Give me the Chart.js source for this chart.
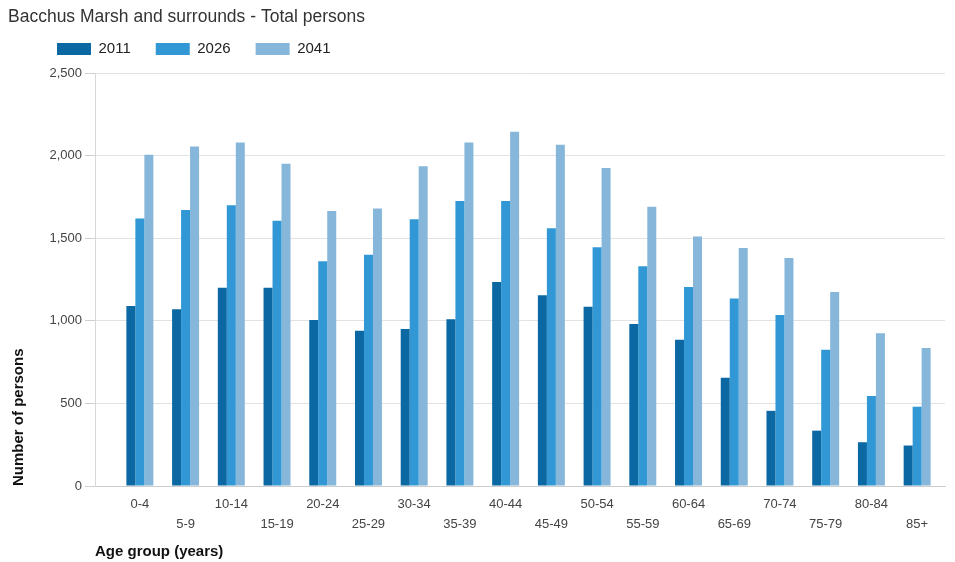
<!DOCTYPE html>
<html>
<head>
<meta charset="utf-8">
<script src="https://cdn.jsdelivr.net/npm/chart.js@4.4.1/dist/chart.umd.min.js"></script>
<style>
  html, body { margin: 0; padding: 0; background: #ffffff; }
  #wrap { width: 955px; height: 562px; }
</style>
</head>
<body>
<div id="wrap"><canvas id="chart" width="955" height="562"></canvas></div>
<script>
// Age groups shown along the x axis
const AGE_GROUPS = ['0-4', '5-9', '10-14', '15-19', '20-24', '25-29', '30-34', '35-39', '40-44',
                    '45-49', '50-54', '55-59', '60-64', '65-69', '70-74', '75-79', '80-84', '85+'];

// Series names (years)
const SERIES_NAMES = ['2011', '2026', '2041'];

// Number of persons per age group
const PERSONS_2011 = [1090, 1070, 1200, 1200, 1005, 940, 950, 1010, 1235, 1155, 1085, 980, 885, 655, 455, 335, 265, 245];
const PERSONS_2026 = [1620, 1670, 1700, 1605, 1360, 1400, 1615, 1725, 1725, 1560, 1445, 1330, 1205, 1135, 1035, 825, 545, 480];
const PERSONS_2041 = [2005, 2055, 2080, 1950, 1665, 1680, 1935, 2080, 2145, 2065, 1925, 1690, 1510, 1440, 1380, 1175, 925, 835];

// Value axis ticks
const Y_TICKS = [0, 500, 1000, 1500, 2000, 2500];

const COLORS = ['#0b68a3', '#3198d5', '#86b6d9'];
const FONT = 'Liberation Sans, Arial, sans-serif';

// Small layout adjustments: the category band sits a little inside the
// plot frame, the title is indented, and the legend row sits just under it.
const layoutTweaks = {
  id: 'layoutTweaks',
  afterLayout(chart) {
    const x = chart.scales.x;
    const area = chart.chartArea;
    x._startPixel = area.left + 22;
    x._endPixel = area.right - 5;
    x._length = x._endPixel - x._startPixel;

    const tb = chart.titleBlock;
    if (tb) { tb.left += 8; tb.right += 8; }

    const lg = chart.legend;
    const dx = 32, dy = 16.5 - lg.top;
    lg.left += dx; lg.right += dx;
    lg.top += dy; lg.bottom += dy;
  }
};

const seriesValues = [PERSONS_2011, PERSONS_2026, PERSONS_2041];

new Chart(document.getElementById('chart'), {
  type: 'bar',
  data: {
    labels: AGE_GROUPS,
    datasets: SERIES_NAMES.map((name, i) => ({
      label: name,
      data: seriesValues[i],
      backgroundColor: COLORS[i],
      borderWidth: 0,
      categoryPercentage: 0.59,
      barPercentage: 1.0
    }))
  },
  options: {
    responsive: false,
    animation: false,
    devicePixelRatio: 1,
    layout: { padding: { left: 0, right: 10, top: 0, bottom: 0 } },
    plugins: {
      title: {
        display: true,
        text: 'Bacchus Marsh and surrounds - Total persons',
        align: 'start',
        color: '#333333',
        font: { family: FONT, size: 17.5, weight: 'normal' },
        padding: { top: 7, bottom: 0 }
      },
      legend: {
        display: true,
        position: 'top',
        align: 'start',
        maxHeight: 45,
        labels: {
          color: '#222222',
          font: { family: FONT, size: 15 },
          boxWidth: 34,
          boxHeight: 12,
          padding: 25
        }
      },
      tooltip: { enabled: false }
    },
    scales: {
      x: {
        type: 'category',
        grid: { display: false, drawTicks: false },
        border: { display: true, color: '#cccccc' },
        ticks: {
          autoSkip: false,
          maxRotation: 0,
          minRotation: 0,
          padding: 8,
          color: '#444444',
          font: { family: FONT, size: 13, lineHeight: '20px' },
          callback: (value, index) => index % 2 === 0 ? [AGE_GROUPS[index], ''] : ['', AGE_GROUPS[index]]
        },
        title: {
          display: true,
          text: 'Age group (years)',
          align: 'start',
          color: '#111111',
          font: { family: FONT, size: 15, weight: 'bold' },
          padding: { top: 0, bottom: 1 }
        },
        afterFit: (scale) => { scale.height = 76; }
      },
      y: {
        min: 0,
        max: 2500,
        afterBuildTicks: (scale) => { scale.ticks = Y_TICKS.map(v => ({ value: v })); },
        grid: { color: '#e2e2e2', tickLength: 10, tickColor: '#d0d0d0' },
        border: { display: true, color: '#d8d8d8' },
        ticks: {
          padding: 3,
          color: '#444444',
          font: { family: FONT, size: 13 },
          callback: (v) => Number(v).toLocaleString('en-US')
        },
        title: {
          display: true,
          text: 'Number of persons',
          align: 'start',
          color: '#111111',
          font: { family: FONT, size: 15, weight: 'bold' },
          padding: { top: 10, bottom: 0 }
        },
        afterFit: (scale) => { scale.width = 95; }
      }
    }
  },
  plugins: [layoutTweaks]
});
</script>
</body>
</html>
